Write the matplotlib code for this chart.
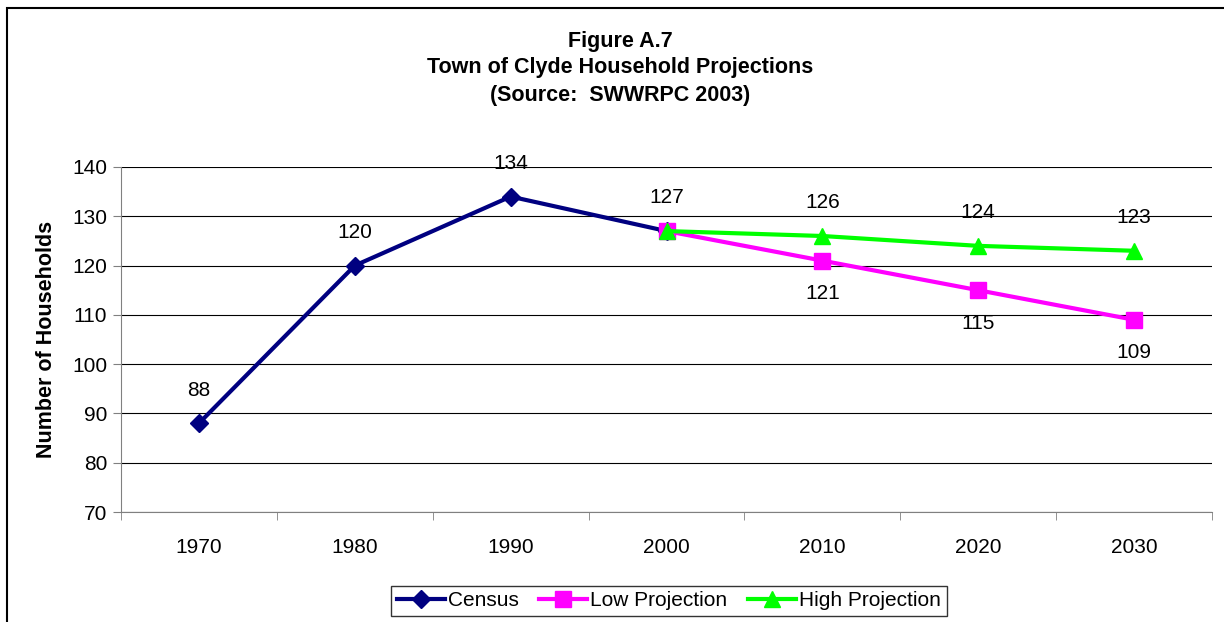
import numpy as np
import matplotlib.pyplot as plt
from matplotlib.patches import Rectangle

years = ["1970", "1980", "1990", "2000", "2010", "2020", "2030"]
census = [88, 120, 134, 127, None, None, None]
low = [None, None, None, 127, 121, 115, 109]
high = [None, None, None, 127, 126, 124, 123]

NAVY = "#000080"
MAGENTA = "#FF00FF"
GREEN = "#00FF00"
FS = 15

plt.rcParams.update({
    "font.family": ["Liberation Sans", "DejaVu Sans"],
    "font.size": FS,
})

fig = plt.figure(figsize=(12.24, 6.22), dpi=100)
ax = fig.add_axes([121 / 1224, 1 - 512 / 622, (1212 - 121) / 1224, 345 / 622])

x = np.arange(len(years))


def series(vals):
    idx = [i for i, v in enumerate(vals) if v is not None]
    return np.array(idx), np.array([vals[i] for i in idx])


cx, cy = series(census)
lx, ly = series(low)
hx, hy = series(high)

ax.plot(cx, cy, color=NAVY, lw=3, marker="D", ms=9, label="Census", zorder=3)
ax.plot(lx, ly, color=MAGENTA, lw=3, marker="s", ms=11, label="Low Projection", zorder=4)
ax.plot(hx, hy, color=GREEN, lw=3, marker="^", ms=12, label="High Projection", zorder=5)

# data labels
for xi, yi in zip(cx, cy):
    ax.annotate(f"{yi}", (xi, yi), xytext=(0, 17), textcoords="offset points",
                ha="center", va="bottom", fontsize=FS)
for xi, yi in zip(lx[1:], ly[1:]):
    ax.annotate(f"{yi}", (xi, yi), xytext=(0, -17), textcoords="offset points",
                ha="center", va="top", fontsize=FS)
for xi, yi in zip(hx[1:], hy[1:]):
    ax.annotate(f"{yi}", (xi, yi), xytext=(0, 17), textcoords="offset points",
                ha="center", va="bottom", fontsize=FS)

ax.set_xlim(-0.5, len(years) - 0.5)
ax.set_ylim(70, 140)
ax.set_yticks(range(70, 141, 10))
ax.set_xticks(x)
ax.set_xticklabels(years)
ax.set_xticks(np.arange(-0.5, len(years)), minor=True)
ax.tick_params(axis="x", which="major", length=0, pad=19, labelsize=FS)
ax.tick_params(axis="x", which="minor", length=6, color="#808080")
ax.tick_params(axis="y", length=6, color="#808080", pad=4, labelsize=FS)

ax.grid(axis="y", color="#000000", lw=0.8, zorder=0)
ax.set_axisbelow(True)
for s in ("top", "right"):
    ax.spines[s].set_visible(False)
for s in ("left", "bottom"):
    ax.spines[s].set_color("#808080")

ax.set_ylabel("Number of Households", fontweight="bold", fontsize=15.5, labelpad=11)

TX = 620 / 1224
fig.text(TX, 1 - 42 / 622, "Figure A.7", ha="center", va="center",
         fontweight="bold", fontsize=15.5)
fig.text(TX, 1 - 68 / 622, "Town of Clyde Household Projections", ha="center",
         va="center", fontweight="bold", fontsize=15.5)
fig.text(TX, 1 - 96 / 622, "(Source:  SWWRPC 2003)", ha="center", va="center",
         fontweight="bold", fontsize=15.5)

leg = fig.legend(loc="center", bbox_to_anchor=(669 / 1224, 1 - 601 / 622), ncol=3,
                 frameon=True, fancybox=False, fontsize=FS, handlelength=2.3,
                 handletextpad=0.15, columnspacing=1.0, borderpad=0.25)
leg.get_frame().set_edgecolor("black")
leg.get_frame().set_linewidth(1.0)

# outer chart border (cut off at right and bottom)
fig.patches.append(Rectangle((7 / 1224, -0.1), 1.2, 1 - 8 / 622 + 0.1,
                             transform=fig.transFigure, fill=False,
                             edgecolor="black", lw=1.5))

fig.savefig("out.png", dpi=100, facecolor="white")
